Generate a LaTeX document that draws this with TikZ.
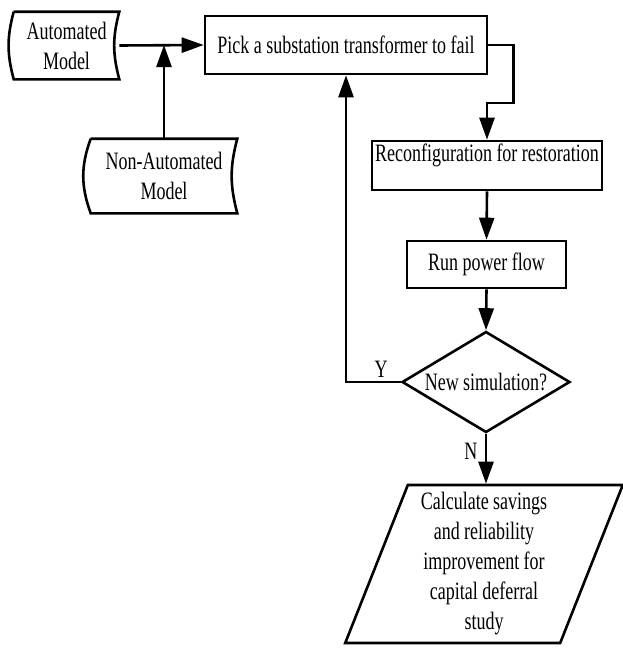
\documentclass[tikz,border=0pt]{standalone}
\usepackage{fontspec}
\setmainfont[FakeStretch=0.72]{Liberation Serif}
\usetikzlibrary{arrows.meta,shapes.geometric}
\begin{document}
\begin{tikzpicture}[x=1pt,y=1pt,line width=2.6pt,
  font=\fontsize{25}{30}\selectfont,
  box/.style={draw,rectangle,inner sep=0pt,align=center},
  datashape/.style={rectangle,inner sep=0pt,align=center},
  arr/.style={-{Triangle[length=22pt,width=15pt]}}]
\useasboundingbox (0,0) rectangle (623,-653);
\node[datashape,minimum width=103pt,minimum height=65pt] (am) at (66.5,-45.5) {Automated\\Model};
\draw (am.north west) -- (am.north east) to[bend right=15] (am.south east) -- (am.south west) to[bend left=15] (am.north west);
\node[datashape,minimum width=144pt,minimum height=72pt] (nam) at (164,-176) {Non-Automated\\Model};
\draw (nam.north west) -- (nam.north east) to[bend right=15] (nam.south east) -- (nam.south west) to[bend left=20] (nam.north west);
\node[box,minimum width=282pt,minimum height=58pt] (pick) at (346,-45) {Pick a substation transformer to fail};
\node[box,minimum width=230pt,minimum height=49pt,text height=17pt,text depth=25pt] (reconfig) at (487,-165.5) {Reconfiguration for restoration};
\node[box,minimum width=159pt,minimum height=47pt] (run) at (486.5,-264.5) {Run power flow};
\node[diamond,draw,aspect=1.66,inner sep=0pt,minimum width=168pt,minimum height=101pt] (dec) at (486,-382) {New simulation?};
\node[trapezium,draw,trapezium left angle=70,trapezium right angle=110,trapezium stretches=true,minimum width=278pt,minimum height=158pt,inner sep=0pt,align=center] (calc) at (484,-564) {Calculate savings\\and reliability\\improvement for\\capital deferral\\study};
\coordinate (join) at (nam.north |- pick.west);
\draw[arr] (am.east) -- (pick.west);
\draw[arr] (nam.north) -- (join);
\draw[arr] (pick.east) -- ++(25,0) -- ++(0,-58) -| (reconfig.north);
\draw[arr] (reconfig.south) -- (run.north);
\draw[arr] (run.south) -- (dec.north);
\draw[arr] (dec.west) -| node[above,pos=0.18]{Y} (pick.south);
\draw[arr] (dec.south) -- node[left,pos=0.35,xshift=-4pt]{N} (dec.south |- calc.north);
\end{tikzpicture}
\end{document}
